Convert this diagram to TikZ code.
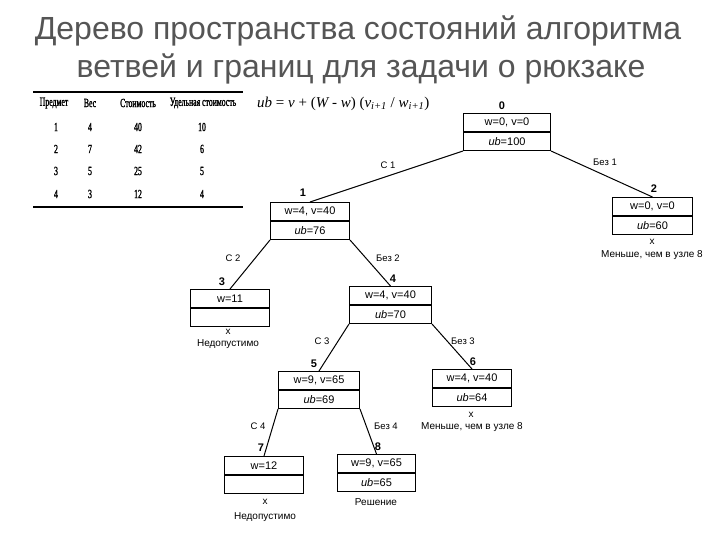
\documentclass[tikz,border=0pt]{standalone}
\usepackage{fontspec}
\setmainfont{Liberation Serif}
\setsansfont{Liberation Sans}
\newfontfamily\tabfont[FakeStretch=0.62,FakeBold=1.5]{Liberation Serif}
\usetikzlibrary{positioning}
\definecolor{titlegray}{RGB}{85,85,85}
\begin{document}
\begin{tikzpicture}[x=1pt,y=-1pt,
  row/.style={draw,line width=1pt,minimum height=18pt,inner sep=0pt,font=\sffamily\fontsize{11}{12}\selectfont},
  numlab/.style={font=\sffamily\bfseries\fontsize{11}{12}\selectfont,inner sep=0pt},
  elab/.style={font=\sffamily\fontsize{9.5}{10}\selectfont,inner sep=0pt},
  note/.style={font=\sffamily\fontsize{10}{11}\selectfont,inner sep=0pt},
  edge/.style={line width=1pt},
  tab/.style={font=\tabfont\fontsize{12.5}{13}\selectfont,inner sep=0pt}]
\useasboundingbox (0,0) rectangle (720,540);
\fill[white] (0,0) rectangle (720,540);
% title
\node[font=\sffamily\fontsize{32}{34}\selectfont,text=titlegray] (t1) at (358,31) {Дерево пространства состояний алгоритма};
\node[font=\sffamily\fontsize{32}{34}\selectfont,text=titlegray] (t2) at (361,69) {ветвей и границ для задачи о рюкзаке};
% table
\draw[line width=1.3pt] (33,92) -- (243,92);
\draw[line width=1.3pt] (33,207) -- (243,207);
\node[tab] (h1) at (54,103) {Предмет};
\node[tab] (h2) at (90,103) {Вес};
\node[tab] (h3) at (138,103) {Стоимость};
\node[tab] (h4) at (203,103) {Удельная стоимость};
\foreach \y/\a/\b/\c/\d in {127/1/4/40/10,149/2/7/42/6,171/3/5/25/5,194/4/3/12/4}{
  \node[tab] (r\a a) at (56,\y) {\a};
  \node[tab] (r\a b) at (90,\y) {\b};
  \node[tab] (r\a c) at (138,\y) {\c};
  \node[tab] (r\a d) at (202,\y) {\d};
}
% formula
\node[font=\rmfamily\itshape\fontsize{15}{16}\selectfont,anchor=west,inner sep=0pt] (f) at (257,104)
  {ub {\upshape=} v {\upshape+ (}W {\upshape-} w{\upshape) (}v\textsubscript{i+1} {\upshape/} w\textsubscript{i+1}{\upshape)}};
% nodes
\node[row,minimum width=87pt,anchor=north west] (n0a) at (463,113) {w=0, v=0};
\node[row,minimum width=87pt,anchor=north] (n0b) at (n0a.south) {\textit{ub}=100};
\node[row,minimum width=79pt,anchor=north west] (n1a) at (270,202) {w=4, v=40};
\node[row,minimum width=79pt,anchor=north] (n1b) at (n1a.south) {\textit{ub}=76};
\node[row,minimum width=80pt,anchor=north west] (n2a) at (612,197) {w=0, v=0};
\node[row,minimum width=80pt,anchor=north] (n2b) at (n2a.south) {\textit{ub}=60};
\node[row,minimum width=79pt,anchor=north west] (n3a) at (190,289) {w=11};
\node[row,minimum width=79pt,anchor=north] (n3b) at (n3a.south) {};
\node[row,minimum width=82pt,anchor=north west] (n4a) at (349,286) {w=4, v=40};
\node[row,minimum width=82pt,anchor=north] (n4b) at (n4a.south) {\textit{ub}=70};
\node[row,minimum width=81pt,anchor=north west] (n5a) at (278,371) {w=9, v=65};
\node[row,minimum width=81pt,anchor=north] (n5b) at (n5a.south) {\textit{ub}=69};
\node[row,minimum width=79pt,anchor=north west] (n6a) at (432,369) {w=4, v=40};
\node[row,minimum width=79pt,anchor=north] (n6b) at (n6a.south) {\textit{ub}=64};
\node[row,minimum width=79pt,anchor=north west] (n7a) at (224,456) {w=12};
\node[row,minimum width=79pt,anchor=north] (n7b) at (n7a.south) {};
\node[row,minimum width=78pt,anchor=north west] (n8a) at (337,454) {w=9, v=65};
\node[row,minimum width=78pt,anchor=north] (n8b) at (n8a.south) {\textit{ub}=65};
% node numbers
\node[numlab] (l0) at (502,106) {0};
\node[numlab] (l1) at (303,193) {1};
\node[numlab] (l2) at (654,189) {2};
\node[numlab] (l3) at (222,282) {3};
\node[numlab] (l4) at (393,279) {4};
\node[numlab] (l5) at (314,364) {5};
\node[numlab] (l6) at (473,362) {6};
\node[numlab] (l7) at (261,448) {7};
\node[numlab] (l8) at (378,447) {8};
% edges
\draw[edge] (n0b.south west) -- (n1a.north);
\draw[edge] (n0b.south east) -- (n2a.north);
\draw[edge] (n1b.south west) -- (n3a.north);
\draw[edge] (n1b.south east) -- (n4a.north);
\draw[edge] (n4b.south west) -- (n5a.north);
\draw[edge] (n4b.south east) -- (n6a.north);
\draw[edge] (n5b.south west) -- (n7a.north);
\draw[edge] (n5b.south east) -- (n8a.north);
% edge labels
\node[elab] (e1) at (388,165) {С 1};
\node[elab] (e2) at (605,162) {Без 1};
\node[elab] (e3) at (233,258) {С 2};
\node[elab] (e4) at (388,258) {Без 2};
\node[elab] (e5) at (322,341) {С 3};
\node[elab] (e6) at (463,341) {Без 3};
\node[elab] (e7) at (258,426) {С 4};
\node[elab] (e8) at (386,426) {Без 4};
% notes
\node[note] (x2) at (652,242) {x};
\node[note] (m2) at (652,255) {Меньше, чем в узле 8};
\node[note] (x3) at (228,332) {x};
\node[note] (m3) at (228,344) {Недопустимо};
\node[note] (x6) at (471,415) {x};
\node[note] (m6) at (472,427) {Меньше, чем в узле 8};
\node[note] (x7) at (265,502) {x};
\node[note] (m7) at (265,517) {Недопустимо};
\node[note] (m8) at (376,502) {Решение};
\end{tikzpicture}
\end{document}
